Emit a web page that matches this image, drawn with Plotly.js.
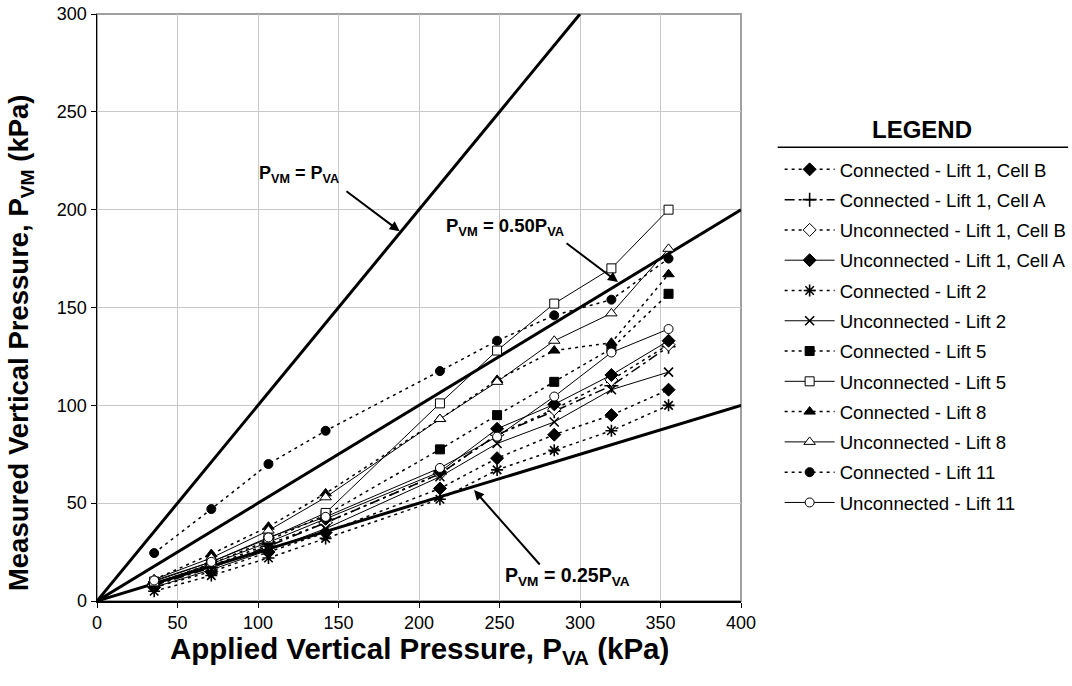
<!DOCTYPE html>
<html>
<head>
<meta charset="utf-8">
<script src="https://cdn.plot.ly/plotly-3.0.1.min.js"></script>
<style>html,body{margin:0;padding:0;background:#fff;}#chart{width:1072px;height:686px;}</style>
</head>
<body>
<div id="chart"></div>
<script>
// Applied vertical pressure (kPa)
const pva = [35.5, 71, 106.5, 142, 213, 248.5, 284, 319.5, 355];

// Measured vertical pressure (kPa) per series
const connL1B   = [7, 15, 25, 35, 57.5, 73, 85, 95, 108];
const connL1A   = [8, 17, 28, 40, 65, 85, 97, 110, 130];
const unconL1B  = [8, 18, 29, 40, 65, 85, 98, 113, 131];
const unconL1A  = [9, 19, 30, 42, 66, 88, 100.5, 115.5, 133];
const connL2    = [5, 13, 22, 32, 52, 67, 77, 87, 100];
const unconL2   = [7, 16, 26, 37, 63.5, 80.5, 91.5, 108, 117];
const connL5    = [9, 19, 31, 44, 77.5, 95, 112, 129, 157];
const unconL5   = [10, 20, 32, 45, 101, 128, 152, 170, 200];
const connL8    = [11, 24, 38, 55, 93, 113, 128, 132, 167];
const unconL8   = [11, 22, 36, 53, 93, 112, 133, 147, 180];
const connL11   = [24.5, 47, 70, 87, 117.5, 133, 146, 154, 175];
const unconL11  = [10.5, 20, 32.5, 43, 68, 84, 104.5, 127, 139];

const seriesNames = [
  'Connected - Lift 1, Cell B', 'Connected - Lift 1, Cell A',
  'Unconnected - Lift 1, Cell B', 'Unconnected - Lift 1, Cell A',
  'Connected - Lift 2', 'Unconnected - Lift 2',
  'Connected - Lift 5', 'Unconnected - Lift 5',
  'Connected - Lift 8', 'Unconnected - Lift 8',
  'Connected - Lift 11', 'Unconnected - Lift 11'
];
const seriesValues = [connL1B, connL1A, unconL1B, unconL1A, connL2, unconL2,
                      connL5, unconL5, connL8, unconL8, connL11, unconL11];

// Reference lines: ratio of measured / applied
const refRatios = [1.0, 0.5, 0.25];
const refXEnd = [300, 400, 400];

const DOT = '3px,4px';
const styles = [
  {dash: DOT, sym: 'diamond', fill: '#000', size: 10},
  {dash: '10px,4px,3px,4px', sym: 'cross-thin', fill: '#000', size: 10},
  {dash: DOT, sym: 'diamond', fill: '#fff', size: 10},
  {dash: 'solid', sym: 'diamond', fill: '#000', size: 10},
  {dash: DOT, sym: 'asterisk', fill: '#000', size: 10},
  {dash: 'solid', sym: 'x-thin', fill: '#000', size: 9},
  {dash: DOT, sym: 'square', fill: '#000', size: 9},
  {dash: 'solid', sym: 'square', fill: '#fff', size: 9},
  {dash: DOT, sym: 'triangle-up', fill: '#000', size: 10},
  {dash: 'solid', sym: 'triangle-up', fill: '#fff', size: 10},
  {dash: DOT, sym: 'circle', fill: '#000', size: 9},
  {dash: 'solid', sym: 'circle', fill: '#fff', size: 9}
];

const FONT = 'Arial, "Liberation Sans", sans-serif';
const traces = [];

refRatios.forEach((r, i) => {
  traces.push({
    x: [0, refXEnd[i]], y: [0, refXEnd[i] * r], mode: 'lines', type: 'scatter',
    line: {color: '#000', width: 3}, showlegend: false, hoverinfo: 'skip'
  });
});

seriesNames.forEach((name, i) => {
  const s = styles[i];
  const thinSym = (s.sym === 'cross-thin' || s.sym === 'x-thin' || s.sym === 'asterisk');
  traces.push({
    x: pva, y: seriesValues[i], name: name, type: 'scatter', mode: 'lines+markers',
    legendgroup: 'g' + i,
    line: {color: '#000', width: s.dash === 'solid' ? 1 : 1.5, dash: s.dash},
    marker: {symbol: s.sym, size: s.size, color: s.fill,
             line: {color: '#000', width: thinSym ? 1.6 : 1}}
  });
});

const sub = (t) => '<sub>' + t + '</sub>';
const layout = {
  width: 1072, height: 686,
  margin: {l: 97, r: 331, t: 14, b: 85, autoexpand: false},
  paper_bgcolor: '#fff', plot_bgcolor: '#fff',
  font: {family: FONT, color: '#000', size: 18},
  showlegend: true,
  legend: {x: 1.06, xanchor: 'left', y: 0.767, yanchor: 'top',
           font: {family: FONT, size: 18.6, color: '#000'},
           tracegroupgap: 3.1, itemwidth: 50, bgcolor: 'rgba(0,0,0,0)'},
  xaxis: {range: [0, 400], dtick: 50, tick0: 0, showgrid: true, gridcolor: '#c8c8c8', gridwidth: 1,
          zeroline: false, showline: true, linecolor: '#000', linewidth: 1.5,
          ticks: 'outside', ticklen: 5, tickcolor: '#000',
          tickfont: {family: FONT, size: 18, color: '#000'}},
  yaxis: {range: [0, 300], dtick: 50, tick0: 0, showgrid: true, gridcolor: '#c8c8c8', gridwidth: 1,
          zeroline: false, showline: true, linecolor: '#000', linewidth: 1.5,
          ticks: 'outside', ticklen: 5, tickcolor: '#000',
          tickfont: {family: FONT, size: 18, color: '#000'}},
  shapes: [
    {type: 'rect', xref: 'paper', yref: 'paper', x0: 0, x1: 1, y0: 0, y1: 1,
     line: {color: '#a0a0a0', width: 2}, layer: 'below'},
    {type: 'line', xref: 'paper', yref: 'paper', x0: 1.057, x1: 1.508, y0: 0.773, y1: 0.773,
     line: {color: '#000', width: 1.5}}
  ],
  annotations: [
    {xref: 'paper', yref: 'paper', x: 0.5, y: -0.05, xanchor: 'center', yanchor: 'top',
     showarrow: false,
     text: '<b>Applied Vertical Pressure, P' + sub('VA') + ' (kPa)</b>',
     font: {family: FONT, size: 29.5, color: '#000'}},
    {xref: 'paper', yref: 'paper', x: -0.1196, y: 0.441, xanchor: 'center', yanchor: 'middle',
     textangle: -90, showarrow: false,
     text: '<b>Measured Vertical Pressure, P' + sub('VM') + ' (kPa)</b>',
     font: {family: FONT, size: 27.5, color: '#000'}},
    {xref: 'paper', yref: 'paper', x: 1.281, y: 0.804, xanchor: 'center', yanchor: 'middle',
     text: '<b>LEGEND</b>', showarrow: false,
     font: {family: FONT, size: 24, color: '#000'}},
    {x: 125.5, y: 218, xanchor: 'center', text: '<b>P' + sub('VM') + ' = P' + sub('VA') + '</b>', showarrow: false,
     font: {family: FONT, size: 18, color: '#000'}},
    {x: 253.4, y: 191, xanchor: 'center', text: '<b>P' + sub('VM') + ' = 0.50P' + sub('VA') + '</b>', showarrow: false,
     font: {family: FONT, size: 18.5, color: '#000'}},
    {x: 292.5, y: 12.3, xanchor: 'center', text: '<b>P' + sub('VM') + ' = 0.25P' + sub('VA') + '</b>', showarrow: false,
     font: {family: FONT, size: 19.5, color: '#000'}},
    {x: 188, y: 189, ax: 154, ay: 210, axref: 'x', ayref: 'y', text: '', showarrow: true,
     arrowhead: 2, arrowsize: 1, arrowwidth: 2, arrowcolor: '#000'},
    {x: 323.6, y: 163, ax: 290.7, ay: 183.4, axref: 'x', ayref: 'y', text: '', showarrow: true,
     arrowhead: 2, arrowsize: 1, arrowwidth: 2, arrowcolor: '#000'},
    {x: 234.2, y: 56.7, ax: 275.8, ay: 17.9, axref: 'x', ayref: 'y', text: '', showarrow: true,
     arrowhead: 2, arrowsize: 1, arrowwidth: 2, arrowcolor: '#000'}
  ]
};

Plotly.newPlot('chart', traces, layout, {displayModeBar: false, staticPlot: true});
</script>
</body>
</html>
